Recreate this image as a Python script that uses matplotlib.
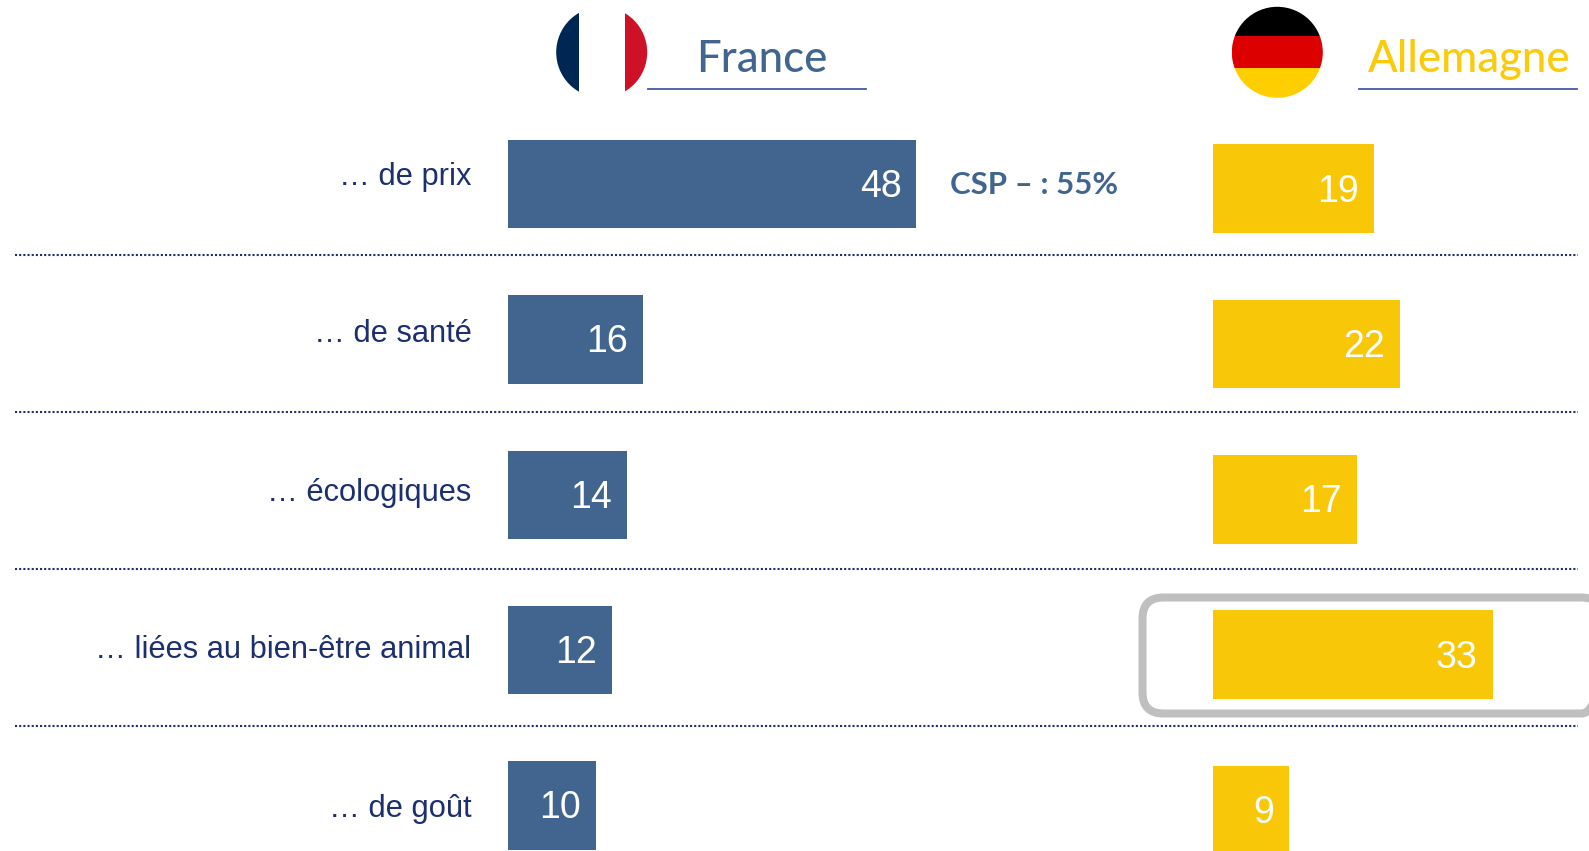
# plot.py - preoccupations France / Allemagne
import matplotlib
matplotlib.use("Agg")
import matplotlib.pyplot as plt
from matplotlib.patches import Circle, FancyBboxPatch, Rectangle

W, H = 1589, 851

categories = ["… de prix", "… de santé", "… écologiques",
              "… liées au bien-être animal", "… de goût"]
# bar lengths, the labels show them rounded
france = [48, 15.9, 14, 12.2, 10.3]
allemagne = [19, 22.1, 17, 33, 9]

BLUE = "#426590"
YELLOW = "#F8C808"
TITLE_YELLOW = "#FBCB0A"
NAVY = "#1C2F6E"
LINE = "#4358A3"
GREY = "#BFBFBF"

ROW = 155.35
BAR_H = 88.6 / ROW


def bar_axes(fig, x0, px_per_unit, y0):
    # axes over the full height, so the rows come from ylim and the bars from xlim
    ax = fig.add_axes([x0 / W, 0, (W - x0) / W, 1])
    ax.set_xlim(0, (W - x0) / px_per_unit)
    ax.set_ylim((H - y0) / ROW, -y0 / ROW)
    ax.axis("off")
    ax.patch.set_alpha(0)
    return ax


def draw_bars(ax, values, color, pad):
    ax.barh(range(len(values)), values, height=BAR_H, color=color, linewidth=0)
    for i, v in enumerate(values):
        ax.annotate(str(round(v)), (v, i), xytext=(-pad, 1), textcoords="offset pixels",
                    ha="right", va="center_baseline", color="white", fontsize=27,
                    family="Liberation Sans")


def round_flag(ax, cx, cy, r, stripes, vertical):
    clip = Circle((cx, cy), r, transform=ax.transData, facecolor="none", edgecolor="none")
    ax.add_patch(clip)
    for a, b, col in stripes:
        if vertical:
            p = Rectangle((a, cy - r), b - a, 2 * r, color=col, linewidth=0)
        else:
            p = Rectangle((cx - r, a), 2 * r, b - a, color=col, linewidth=0)
        ax.add_patch(p)
        p.set_clip_path(clip)


fig = plt.figure(figsize=(W / 100, H / 100), dpi=100, facecolor="white")

# pixel overlay for header, separators and the highlight box
bg = fig.add_axes([0, 0, 1, 1])
bg.set_xlim(0, W)
bg.set_ylim(H, 0)
bg.axis("off")

for y in [255, 412, 569, 726]:
    bg.plot([15, 1578], [y, y], color=NAVY, lw=1.5, ls=(0, (1, 1)))

bg.add_patch(FancyBboxPatch((1142.5, 597.5), 460, 116, boxstyle="round,pad=0,rounding_size=21",
                            facecolor="none", edgecolor=GREY, lw=5.8))

round_flag(bg, 601.7, 52.3, 45.5,
           [(550, 579.3, "#002654"), (579.3, 624.7, "white"), (624.7, 650, "#CE1126")], True)
round_flag(bg, 1277.3, 52.3, 45.5,
           [(0, 36, "#000000"), (36, 67.5, "#DD0000"), (67.5, 100, "#FFCE00")], False)

bg.plot([648, 866], [89, 89], color=LINE, lw=1.3)
bg.plot([1359, 1577], [89, 89], color=LINE, lw=1.3)
bg.text(762, 72, "France", color=BLUE, fontsize=31.5, family="Lato", weight="medium",
        ha="center", va="baseline")
bg.text(1469, 72, "Allemagne", color=TITLE_YELLOW, fontsize=31.5, family="Lato", weight="medium",
        ha="center", va="baseline")
bg.text(950, 182, "CSP – : 55%", color=BLUE, fontsize=22.5, family="Lato", weight="bold",
        ha="left", va="center_baseline")

for i, c in enumerate(categories):
    bg.text(471.5, 173 + 158 * i, c, color=NAVY, fontsize=22.2,
            family="Liberation Sans", ha="right", va="center_baseline")

ax_fr = bar_axes(fig, 508, 8.51, 184.1)
draw_bars(ax_fr, france, BLUE, 15)
ax_de = bar_axes(fig, 1213, 8.47, 188.6)
draw_bars(ax_de, allemagne, YELLOW, 15)

fig.savefig("out.png", dpi=100)
